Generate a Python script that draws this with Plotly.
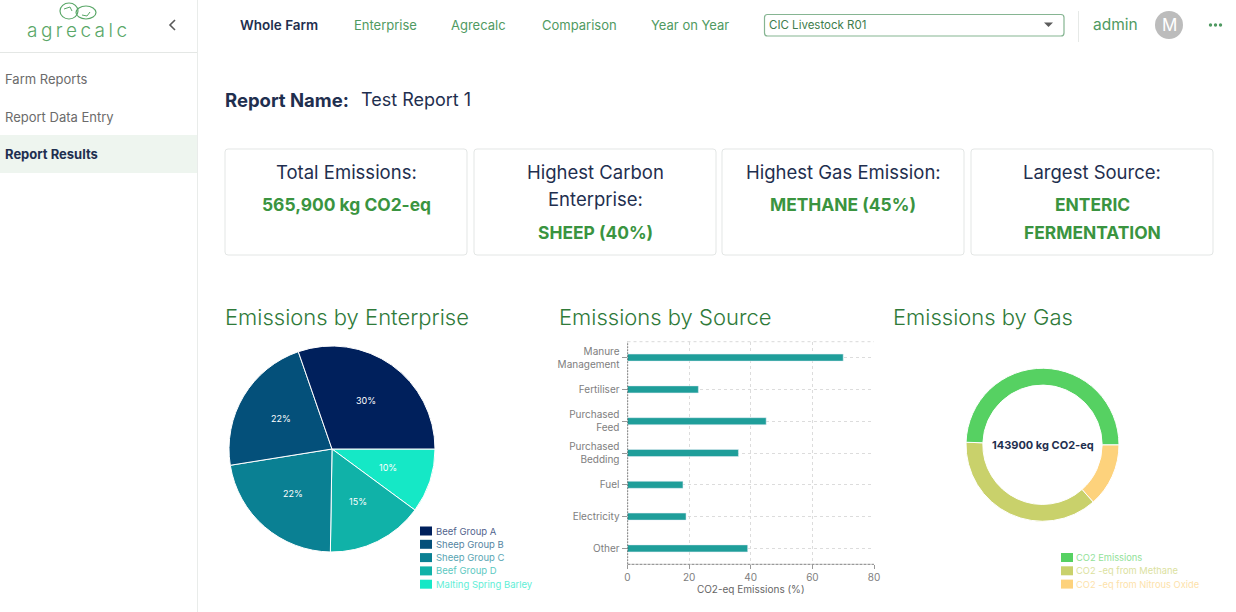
import math

import plotly.graph_objects as go

W, H = 1236, 612
FONT = "Inter"
NAVY = "#1f2f4f"
GREEN = "#3a9440"
NAV_GREEN = "#4f9a62"
TITLE_GREEN = "#2f7a3a"
GREY = "#7e7e7e"

# data
enterprises = ["Beef Group A", "Sheep Group B", "Sheep Group C", "Beef Group D", "Malting Spring Barley"]
enterprise_share = [30, 22, 22, 15, 10]
enterprise_colors = ["#00205c", "#04507a", "#0a8093", "#10b2a8", "#15e8c6"]

sources = ["Manure<br>Management", "Fertiliser", "Purchased<br>Feed", "Purchased<br>Bedding", "Fuel", "Electricity", "Other"]
source_share = [70, 23, 45, 36, 18, 19, 39]
x_ticks = [0, 20, 40, 60, 80]

gases = ["CO2 Emissions", "CO2 -eq from Methane", "CO2 -eq from Nitrous Oxide"]
gas_kg = [71200, 53300, 19400]
gas_colors = ["#56d162", "#c9d16b", "#fdd27c"]

nav_items = ["Enterprise", "Agrecalc", "Comparison", "Year on Year"]
nav_x = [385, 479, 579, 690]
side_items = ["Farm Reports", "Report Data Entry"]
side_y = [79, 117]

cards = [
    (225, ["Total Emissions:"], ["565,900 kg CO2-eq"]),
    (474, ["Highest Carbon", "Enterprise:"], ["SHEEP (40%)"]),
    (722, ["Highest Gas Emission:"], ["METHANE (45%)"]),
    (971, ["Largest Source:"], ["ENTERIC", "FERMENTATION"]),
]
chart_titles = ["Emissions by Enterprise", "Emissions by Source", "Emissions by Gas"]
chart_title_x = [225, 559, 893]


def fx(x):
    return x / W


def fy(y):
    return 1 - y / H


def text(s, x, y, size, color, anchor="left", weight=400, opacity=1):
    # annotations sit about 2px right of their anchor when left aligned
    shift = -2 if anchor == "left" else 0
    return dict(
        text=s, x=fx(x), y=fy(y), xref="paper", yref="paper", showarrow=False,
        xanchor=anchor, yanchor="middle", xshift=shift, opacity=opacity,
        font=dict(family=FONT, size=size, color=color, weight=weight),
    )


def box(x0, y0, x1, y1, fill="rgba(0,0,0,0)", line="rgba(0,0,0,0)", width=1, kind="rect"):
    return dict(
        type=kind, xref="paper", yref="paper", x0=fx(x0), x1=fx(x1), y0=fy(y0), y1=fy(y1),
        fillcolor=fill, line=dict(color=line, width=width), layer="below",
    )


def path(points, fill="rgba(0,0,0,0)", line="rgba(0,0,0,0)", width=1):
    # points is a list of (command, x, y) in pixels
    d = " ".join(f"{c}{fx(x):.5f},{fy(y):.5f}" for c, x, y in points)
    return dict(type="path", xref="paper", yref="paper", path=d, fillcolor=fill,
                line=dict(color=line, width=width), layer="below")


def rounded(x0, y0, x1, y1, r, fill="white", line="#e3e6e5", width=1):
    d = (
        f"M{fx(x0 + r):.5f},{fy(y0):.5f} L{fx(x1 - r):.5f},{fy(y0):.5f} "
        f"Q{fx(x1):.5f},{fy(y0):.5f} {fx(x1):.5f},{fy(y0 + r):.5f} "
        f"L{fx(x1):.5f},{fy(y1 - r):.5f} Q{fx(x1):.5f},{fy(y1):.5f} {fx(x1 - r):.5f},{fy(y1):.5f} "
        f"L{fx(x0 + r):.5f},{fy(y1):.5f} Q{fx(x0):.5f},{fy(y1):.5f} {fx(x0):.5f},{fy(y1 - r):.5f} "
        f"L{fx(x0):.5f},{fy(y0 + r):.5f} Q{fx(x0):.5f},{fy(y0):.5f} {fx(x0 + r):.5f},{fy(y0):.5f} Z"
    )
    return dict(type="path", xref="paper", yref="paper", path=d, fillcolor=fill,
                line=dict(color=line, width=width), layer="below")


fig = go.Figure()

# slices run anticlockwise from 3 o'clock in the original, so feed them reversed
fig.add_trace(go.Pie(
    labels=enterprises[::-1], values=enterprise_share[::-1], sort=False, direction="clockwise",
    rotation=90, marker=dict(colors=enterprise_colors[::-1], line=dict(color="white", width=1)),
    textinfo="none", showlegend=False,
    domain=dict(x=[fx(229), fx(435)], y=[fy(552), fy(346)]),
))

fig.add_trace(go.Bar(
    y=sources, x=source_share, orientation="h", marker=dict(color="#1f9e9a"),
    showlegend=False, width=0.22,
))

fig.add_trace(go.Pie(
    labels=gases[::-1], values=gas_kg[::-1], sort=False, direction="clockwise", rotation=90, hole=0.78,
    marker=dict(colors=gas_colors[::-1], line=dict(color="white", width=1)),
    textinfo="none", showlegend=False,
    domain=dict(x=[fx(966), fx(1119)], y=[fy(521.5), fy(368)]),
))

shapes = [
    box(0, 135, 197, 173, fill="#eef5ef"),
    box(197, 0, 198, 612, fill="#e9ecea"),
    box(0, 52, 197, 53, fill="#e4e7e5"),
    box(1078, 11, 1079, 42, fill="#e6e9e7"),
    rounded(764.5, 14.5, 1064, 36, 3, fill="white", line="#86b592", width=1.2),
    path([("M", 1044, 22.5), ("L", 1053, 22.5), ("L", 1048.5, 27), ("L", 1044, 22.5)], fill="#5c5c5c"),
    box(1155, 11, 1183, 39, fill="#bcbcbc", kind="circle"),
    path([("M", 175, 20), ("L", 170, 25), ("L", 175, 30)], line="#5a5a5a", width=1.6),
    # logo
    box(60, 3, 78, 19, line="#5aa768", width=1.2, kind="circle"),
    box(76, 6, 96, 19, line="#5aa768", width=1.2, kind="circle"),
    path([("M", 64, 9), ("L", 70, 7), ("L", 72, 11)], line="#5aa768", width=1),
    path([("M", 82, 15), ("L", 87, 16), ("L", 90, 12)], line="#5aa768", width=1),
]
for dot_x in [1210.5, 1215.5, 1220.5]:
    shapes.append(box(dot_x - 1.7, 23.3, dot_x + 1.7, 26.7, fill=NAV_GREEN, kind="circle"))
for card_x, _, _ in cards:
    shapes.append(rounded(card_x, 149, card_x + 242, 255, 3))

# bar chart frame the axis lines cannot draw dashed
shapes.append(dict(type="line", xref="x", yref="y domain", x0=0, x1=0, y0=0, y1=1,
                   line=dict(color="#222222", width=1.2, dash="2px,1px")))
shapes.append(dict(type="line", xref="x domain", yref="y domain", x0=0, x1=1, y0=0, y1=0,
                   line=dict(color="#9a9a9a", width=1.2, dash="3px,1px")))
shapes.append(dict(type="line", xref="x domain", yref="y domain", x0=0, x1=1, y0=1, y1=1,
                   line=dict(color="#d9d9d9", width=1, dash="dot"), layer="below"))

annotations = [
    text("\u2009".join("agrecalc"), 77, 30, 19, "#5aa768", "center", 300),
    text("Whole Farm", 279, 25, 13.5, NAVY, "center", 600),
    text("CIC Livestock R01", 769, 25, 11.5, "#3e7c4c"),
    text("admin", 1115, 25, 15.5, NAV_GREEN, "center"),
    text("M", 1169, 25, 17, "white", "center"),
    text("Report Results", 5, 154, 13, NAVY, weight=700),
    text("Report Name:", 225, 100, 18.5, NAVY, weight=700),
    text("Test Report 1", 361, 100, 18, NAVY),
    text("143900 kg CO2-eq", 1042.5, 445, 11, NAVY, "center", 700),
]
for label, x in zip(nav_items, nav_x):
    annotations.append(text(label, x, 25, 13, NAV_GREEN, "center"))
for label, y in zip(side_items, side_y):
    annotations.append(text(label, 5, y - 0.5, 13, "#6b6b6b"))
for card_x, heads, values in cards:
    cx = card_x + 121
    y = 171.5
    for line in heads:
        annotations.append(text(line, cx, y, 18.5, NAVY, "center"))
        y += 27.5
    y += 5.5
    for line in values:
        annotations.append(text(line, cx, y, 17.4, GREEN, "center", 700))
        y += 27.5
for label, x in zip(chart_titles, chart_title_x):
    annotations.append(text(label, x, 316.5, 22, TITLE_GREEN, weight=300))

# pie labels sit on a fixed radius, plotly's inside text drifts towards the rim
total = sum(enterprise_share)
start = 0
for share in enterprise_share:
    mid = 2 * math.pi * (start + share / 2) / total
    label_x = 332 + 59 * math.cos(mid)
    label_y = 449 - 59 * math.sin(mid)
    annotations.append(text(f"{share}%", label_x, label_y, 9, "white", "center"))
    start += share

# legends are tighter than plotly's own
for i, (name, color) in enumerate(zip(enterprises, enterprise_colors)):
    y = 531 + i * 13.3
    shapes.append(box(420, y - 4.5, 432, y + 4.5, fill=color))
    annotations.append(text(name, 436, y, 9.5, color, opacity=0.7))
for i, (name, color) in enumerate(zip(gases, gas_colors)):
    y = 557.5 + i * 13.3
    shapes.append(box(1061, y - 4.5, 1073, y + 4.5, fill=color))
    annotations.append(text(name, 1076, y, 9.3, color, opacity=0.65))

fig.update_layout(
    width=W, height=H, margin=dict(l=0, r=0, t=0, b=0, autoexpand=False),
    paper_bgcolor="white", plot_bgcolor="white",
    shapes=shapes, annotations=annotations,
    xaxis=dict(
        domain=[fx(627.5), fx(874)], range=[0, 80], tickvals=x_ticks,
        showgrid=True, gridcolor="#dcdcdc", griddash="dot", gridwidth=1, zeroline=False,
        ticks="outside", ticklen=4, tickcolor="#999999",
        tickfont=dict(family=FONT, size=10, color=GREY),
        title=dict(text="CO2-eq Emissions (%)", font=dict(family=FONT, size=10, color="#666666"), standoff=1),
    ),
    yaxis=dict(
        domain=[fy(564.3), fy(341.7)], autorange="reversed", type="category",
        showgrid=True, gridcolor="#dcdcdc", griddash="dot", gridwidth=1,
        ticks="outside", ticklen=5, tickcolor="#999999",
        tickfont=dict(family=FONT, size=10, color=GREY),
    ),
)

fig.write_html(
    "out.html",
    config=dict(displayModeBar=False),
    post_script="document.body.style.margin='0';",
)
